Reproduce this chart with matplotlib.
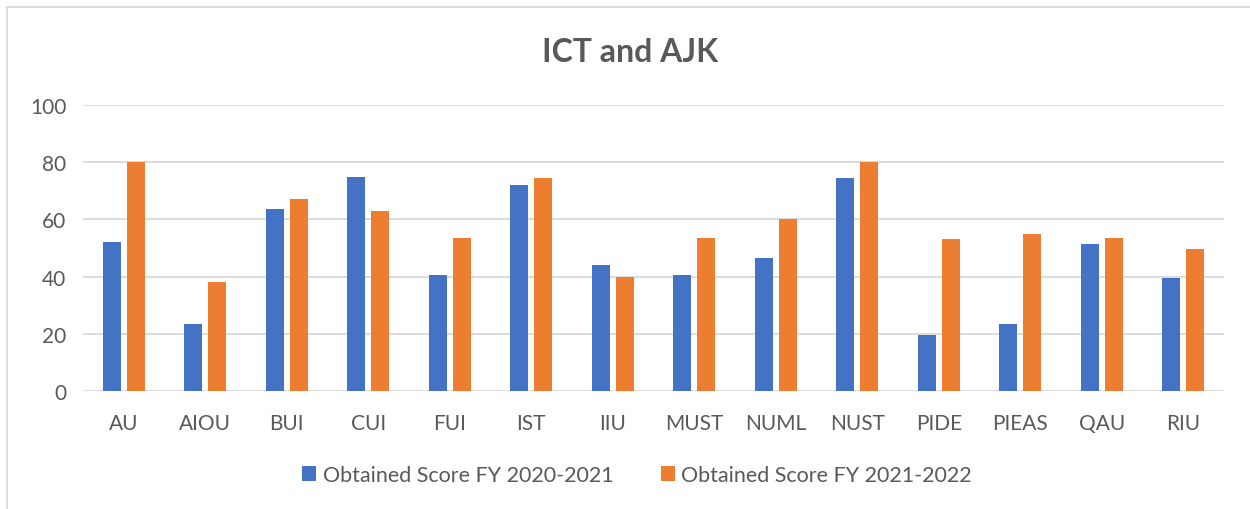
import numpy as np
import matplotlib.pyplot as plt
from matplotlib.lines import Line2D

plt.rcParams['font.family'] = ['Lato', 'DejaVu Sans']

# Data
universities = ['AU', 'AIOU', 'BUI', 'CUI', 'FUI', 'IST', 'IIU', 'MUST', 'NUML',
                'NUST', 'PIDE', 'PIEAS', 'QAU', 'RIU']
score_2020_21 = [52, 23.5, 63.5, 75, 40.5, 72, 44, 40.5, 46.5, 74.5, 19.5, 23.5, 51.5, 39.5]
score_2021_22 = [80, 38, 67, 63, 53.5, 74.5, 40, 53.5, 60, 80, 53, 55, 53.5, 49.5]
series_labels = ['Obtained Score FY 2020-2021', 'Obtained Score FY 2021-2022']

blue = '#4472C4'
orange = '#ED7D31'
text_col = '#595959'

W, H = 1250, 510
fig = plt.figure(figsize=(W / 100, H / 100), dpi=100)
ax = fig.add_axes([83 / W, (H - 392) / H, 1141 / W, 286 / H])

x = np.arange(len(universities))
bw = 0.22
ax.bar(x - 0.145, score_2020_21, bw, color=blue, label=series_labels[0], zorder=3)
ax.bar(x + 0.145, score_2021_22, bw, color=orange, label=series_labels[1], zorder=3)

ax.set_xlim(-0.5, len(universities) - 0.5)
ax.set_ylim(0, 100)
ax.set_yticks(range(0, 101, 20))
ax.set_xticks(x)
ax.set_xticklabels(universities)
ax.yaxis.grid(True, color='#D9D9D9', linewidth=1.3, zorder=0)
for s in ax.spines.values():
    s.set_visible(False)
ax.tick_params(axis='both', length=0, labelsize=15, colors=text_col)
ax.tick_params(axis='x', pad=16)
ax.tick_params(axis='y', pad=12)

fig.text(630 / W, 1 - 53 / H, 'ICT and AJK', ha='center', va='center',
         fontsize=23, fontweight='bold', color=text_col)

leg = fig.legend(loc='center', bbox_to_anchor=(637 / W, 1 - 476 / H), ncol=2,
                 frameon=False, fontsize=15.5, handlelength=0.65, handleheight=0.65,
                 handletextpad=0.3, columnspacing=2.2)
for t in leg.get_texts():
    t.set_color(text_col)

# chart border (top and left edges visible)
fig.add_artist(Line2D([7 / W, 1], [1 - 7.5 / H, 1 - 7.5 / H], color='#D9D9D9', linewidth=1.3))
fig.add_artist(Line2D([7 / W, 7 / W], [0, 1 - 7.5 / H], color='#D9D9D9', linewidth=1.3))

fig.savefig('out.png', dpi=100)
